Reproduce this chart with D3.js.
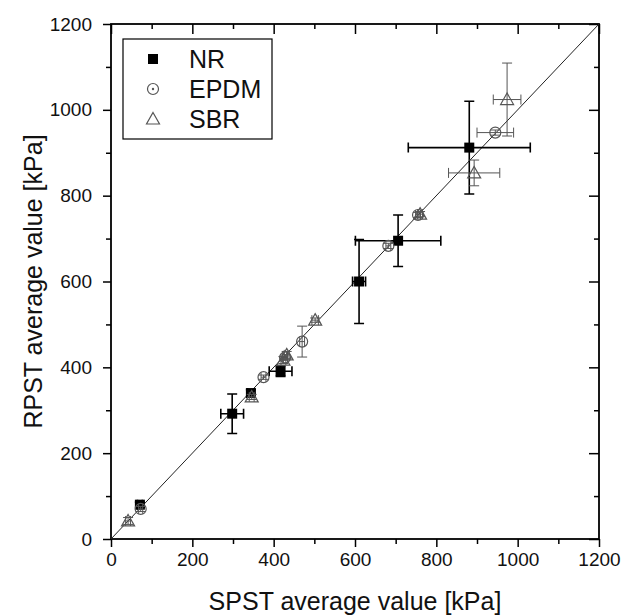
<!DOCTYPE html>
<html>
<head>
<meta charset="utf-8">
<script src="https://cdn.jsdelivr.net/npm/d3@7"></script>
<style>
body { margin: 0; background: white; }
svg { font-family: "Liberation Sans", Arial, sans-serif; }
</style>
</head>
<body>
<svg width="624" height="616"></svg>
<script>
// values (kPa)
var nrX    = [71, 298, 344, 417, 610, 706, 881];
var nrY    = [80, 292, 340, 391, 600, 695, 912];
var nrXErr = [6, 28, 8, 28, 16, 105, 150];
var nrYErr = [6, 46, 8, 12, 98, 60, 108];

var epdmX    = [73, 375, 428, 470, 682, 755, 945];
var epdmY    = [70, 377, 423, 460, 683, 755, 947];
var epdmXErr = [5, 6, 6, 6, 6, 6, 45];
var epdmYErr = [6, 5, 6, 36, 6, 6, 6];

var sbrX    = [42, 346, 424, 432, 502, 760, 893, 974];
var sbrY    = [42, 331, 417, 429, 510, 757, 853, 1024];
var sbrXErr = [6, 6, 6, 6, 8, 6, 63, 34];
var sbrYErr = [8, 6, 8, 8, 5, 6, 30, 85];

var majorTicks = [0, 200, 400, 600, 800, 1000, 1200];
var minorTicks = [100, 300, 500, 700, 900, 1100];
var seriesNames = ["NR", "EPDM", "SBR"];

var pLeft = 111, pRight = 599, pTop = 24, pBottom = 539;

var svg = d3.select("svg");

var x = d3.scaleLinear().domain([0, 1200]).range([pLeft, pRight]);
var y = d3.scaleLinear().domain([0, 1200]).range([pBottom, pTop]);

function rows(xs, ys, xe, ye){
    return xs.map(function(v, i){
        return {x: v, y: ys[i], xe: xe[i], ye: ye[i]};
    });
}

var series = [
    {name: "NR",   data: rows(nrX, nrY, nrXErr, nrYErr),         color: "#000", ew: 1.6, shape: "square"},
    {name: "EPDM", data: rows(epdmX, epdmY, epdmXErr, epdmYErr), color: "#555", ew: 1,   shape: "circle"},
    {name: "SBR",  data: rows(sbrX, sbrY, sbrXErr, sbrYErr),     color: "#555", ew: 1,   shape: "triangle"}
];

// axes
function styleAxis(g){
    g.select(".domain").remove();
    g.attr("font-family", null).attr("font-size", null);
    g.selectAll("line").attr("stroke", "#000").attr("stroke-width", 1.5);
    g.selectAll("text").style("font-size", "19px").attr("fill", "#111");
}

svg.append("g").attr("transform", "translate(0," + pBottom + ")")
    .call(d3.axisBottom(x).tickValues(majorTicks).tickSize(8).tickPadding(6).tickFormat(d3.format("d")))
    .call(styleAxis);
svg.append("g").attr("transform", "translate(0," + pBottom + ")")
    .call(d3.axisBottom(x).tickValues(minorTicks).tickSize(5).tickFormat(""))
    .call(styleAxis);
svg.append("g").attr("transform", "translate(" + pLeft + ",0)")
    .call(d3.axisLeft(y).tickValues(majorTicks).tickSize(8).tickPadding(11).tickFormat(d3.format("d")))
    .call(styleAxis);
svg.append("g").attr("transform", "translate(" + pLeft + ",0)")
    .call(d3.axisLeft(y).tickValues(minorTicks).tickSize(5).tickFormat(""))
    .call(styleAxis);
// mirrored ticks on top and right, pointing inward
svg.append("g").attr("transform", "translate(0," + pTop + ")")
    .call(d3.axisBottom(x).tickValues(majorTicks).tickSize(10).tickFormat(""))
    .call(styleAxis);
svg.append("g").attr("transform", "translate(0," + pTop + ")")
    .call(d3.axisBottom(x).tickValues(minorTicks).tickSize(5).tickFormat(""))
    .call(styleAxis);
svg.append("g").attr("transform", "translate(" + pRight + ",0)")
    .call(d3.axisLeft(y).tickValues(majorTicks).tickSize(10).tickFormat(""))
    .call(styleAxis);
svg.append("g").attr("transform", "translate(" + pRight + ",0)")
    .call(d3.axisLeft(y).tickValues(minorTicks).tickSize(5).tickFormat(""))
    .call(styleAxis);

// frame
svg.append("rect")
    .attr("x", pLeft).attr("y", pTop)
    .attr("width", pRight - pLeft).attr("height", pBottom - pTop)
    .attr("fill", "none").attr("stroke", "#000").attr("stroke-width", 1.8);

// y = x line
svg.append("line")
    .attr("x1", x(0)).attr("y1", y(0))
    .attr("x2", x(1200)).attr("y2", y(1200))
    .attr("stroke", "#222").attr("stroke-width", 1);

// axis titles
svg.append("text")
    .attr("x", (pLeft + pRight) / 2).attr("y", 610)
    .attr("text-anchor", "middle").attr("font-size", "25px").attr("fill", "#111")
    .text("SPST average value [kPa]");
svg.append("text")
    .attr("transform", "translate(42," + (pTop + pBottom) / 2 + ") rotate(-90)")
    .attr("text-anchor", "middle").attr("font-size", "25px").attr("fill", "#111")
    .text("RPST average value [kPa]");

var cap = 5;

function drawMarker(g, shape, color){
    if(shape == "square"){
        g.append("rect").attr("x", -5).attr("y", -5).attr("width", 10).attr("height", 10)
            .attr("fill", color);
    } else if(shape == "circle"){
        g.append("circle").attr("r", 5.5)
            .attr("fill", "none").attr("stroke", color).attr("stroke-width", 1.2);
    } else {
        g.append("path").attr("d", "M0,-6.5L6.5,5L-6.5,5Z")
            .attr("fill", "none").attr("stroke", color).attr("stroke-width", 1.2);
    }
}

series.forEach(function(s){
    var g = svg.append("g");
    var pts = g.selectAll(".pt").data(s.data).enter().append("g").attr("class", "pt");

    // horizontal error bars
    pts.append("path")
        .attr("d", function(d){
            var x0 = x(d.x - d.xe), x1 = x(d.x + d.xe), yy = y(d.y);
            return "M" + x0 + "," + yy + "H" + x1 +
                "M" + x0 + "," + (yy - cap) + "V" + (yy + cap) +
                "M" + x1 + "," + (yy - cap) + "V" + (yy + cap);
        })
        .attr("fill", "none").attr("stroke", s.color).attr("stroke-width", s.ew);

    // vertical error bars
    pts.append("path")
        .attr("d", function(d){
            var y0 = y(d.y - d.ye), y1 = y(d.y + d.ye), xx = x(d.x);
            return "M" + xx + "," + y0 + "V" + y1 +
                "M" + (xx - cap) + "," + y0 + "H" + (xx + cap) +
                "M" + (xx - cap) + "," + y1 + "H" + (xx + cap);
        })
        .attr("fill", "none").attr("stroke", s.color).attr("stroke-width", s.ew);

    pts.each(function(d){
        var m = d3.select(this).append("g")
            .attr("transform", "translate(" + x(d.x) + "," + y(d.y) + ")");
        drawMarker(m, s.shape, s.color);
    });
});

// legend
var legend = svg.append("g");
legend.append("rect")
    .attr("x", 123).attr("y", 39).attr("width", 149).attr("height", 100)
    .attr("fill", "white").attr("stroke", "#000").attr("stroke-width", 1.2);

var legY = d3.scalePoint().domain(seriesNames).range([59, 119]);

series.forEach(function(s){
    var m = legend.append("g")
        .attr("transform", "translate(153," + legY(s.name) + ")");
    drawMarker(m, s.shape, s.color);
    if(s.shape == "circle")
        m.append("circle").attr("r", 1.2).attr("fill", s.color);
    legend.append("text")
        .attr("x", 189).attr("y", legY(s.name) + 9)
        .attr("font-size", "25px").attr("fill", "#111")
        .text(s.name);
});
</script>
</body>
</html>
